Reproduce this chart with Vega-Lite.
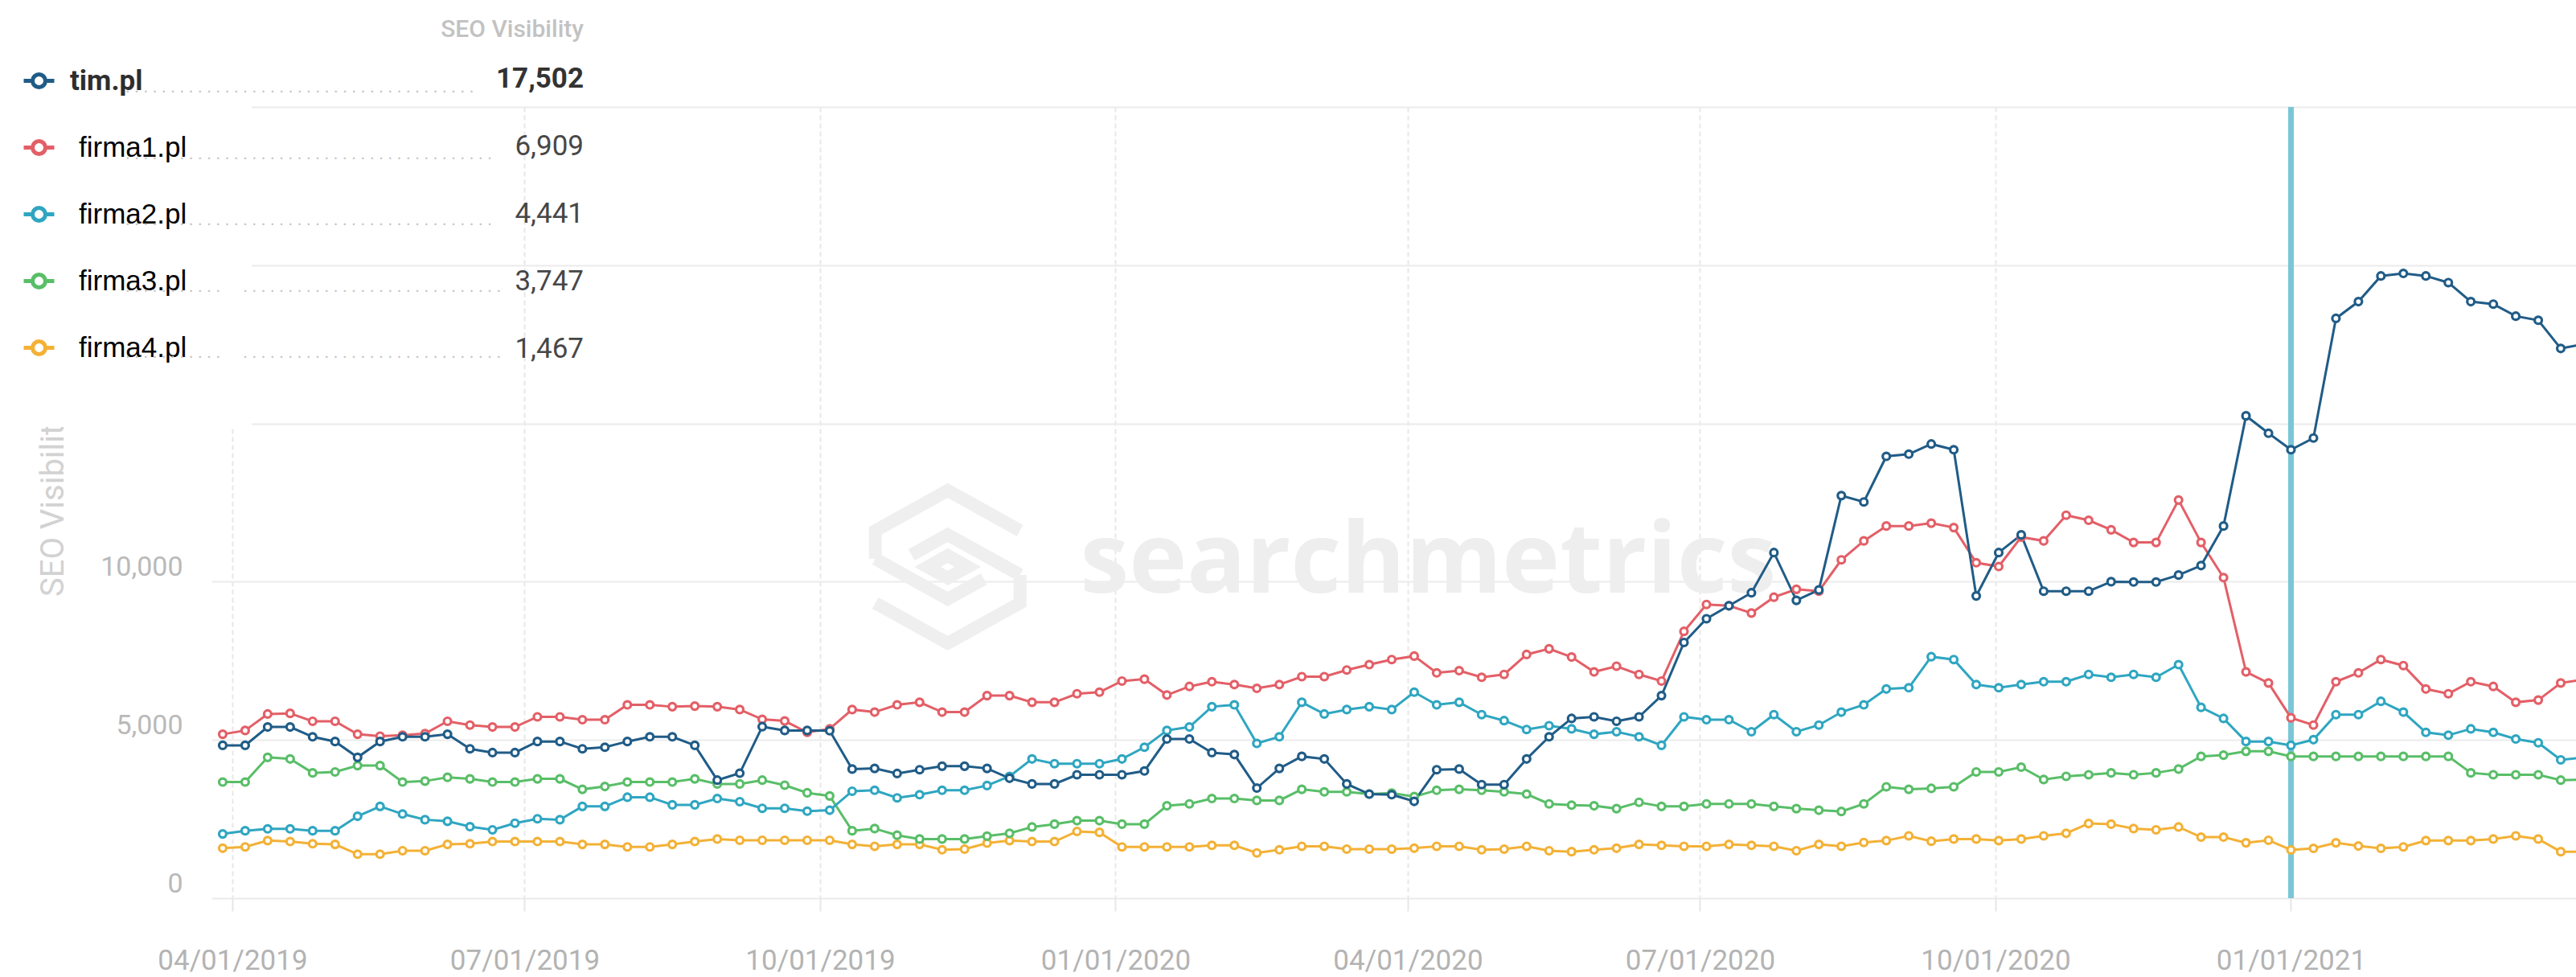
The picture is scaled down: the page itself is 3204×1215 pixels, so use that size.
{
"$schema":"https://vega.github.io/schema/vega-lite/v6.json",
"width":2941,"height":984,
"autosize":{"type":"none"},
"padding":{"left":263,"top":133,"right":0,"bottom":98},
"background":"white",
"config":{"view":{"stroke":null},"font":"Roboto"},
"datasets":{
"latest":[{"site":"tim.pl","visibility":17502},{"site":"firma1.pl","visibility":6909},{"site":"firma2.pl","visibility":4441},{"site":"firma3.pl","visibility":3747},{"site":"firma4.pl","visibility":1467}],
"visibility":[
{"date":"2019-03-29","site":"firma4.pl","visibility":1580},{"date":"2019-04-05","site":"firma4.pl","visibility":1620},{"date":"2019-04-12","site":"firma4.pl","visibility":1820},{"date":"2019-04-19","site":"firma4.pl","visibility":1790},{"date":"2019-04-26","site":"firma4.pl","visibility":1720},{"date":"2019-05-03","site":"firma4.pl","visibility":1700},{"date":"2019-05-10","site":"firma4.pl","visibility":1390},{"date":"2019-05-17","site":"firma4.pl","visibility":1390},{"date":"2019-05-24","site":"firma4.pl","visibility":1500},{"date":"2019-05-31","site":"firma4.pl","visibility":1500},
{"date":"2019-06-07","site":"firma4.pl","visibility":1700},{"date":"2019-06-14","site":"firma4.pl","visibility":1720},{"date":"2019-06-21","site":"firma4.pl","visibility":1790},{"date":"2019-06-28","site":"firma4.pl","visibility":1790},{"date":"2019-07-05","site":"firma4.pl","visibility":1790},{"date":"2019-07-12","site":"firma4.pl","visibility":1790},{"date":"2019-07-19","site":"firma4.pl","visibility":1700},{"date":"2019-07-26","site":"firma4.pl","visibility":1700},{"date":"2019-08-02","site":"firma4.pl","visibility":1620},{"date":"2019-08-09","site":"firma4.pl","visibility":1620},
{"date":"2019-08-16","site":"firma4.pl","visibility":1700},{"date":"2019-08-23","site":"firma4.pl","visibility":1790},{"date":"2019-08-30","site":"firma4.pl","visibility":1870},{"date":"2019-09-06","site":"firma4.pl","visibility":1830},{"date":"2019-09-13","site":"firma4.pl","visibility":1830},{"date":"2019-09-20","site":"firma4.pl","visibility":1830},{"date":"2019-09-27","site":"firma4.pl","visibility":1830},{"date":"2019-10-04","site":"firma4.pl","visibility":1830},{"date":"2019-10-11","site":"firma4.pl","visibility":1700},{"date":"2019-10-18","site":"firma4.pl","visibility":1640},
{"date":"2019-10-25","site":"firma4.pl","visibility":1700},{"date":"2019-11-01","site":"firma4.pl","visibility":1700},{"date":"2019-11-08","site":"firma4.pl","visibility":1530},{"date":"2019-11-15","site":"firma4.pl","visibility":1550},{"date":"2019-11-22","site":"firma4.pl","visibility":1740},{"date":"2019-11-29","site":"firma4.pl","visibility":1820},{"date":"2019-12-06","site":"firma4.pl","visibility":1790},{"date":"2019-12-13","site":"firma4.pl","visibility":1790},{"date":"2019-12-20","site":"firma4.pl","visibility":2110},{"date":"2019-12-27","site":"firma4.pl","visibility":2080},
{"date":"2020-01-03","site":"firma4.pl","visibility":1620},{"date":"2020-01-10","site":"firma4.pl","visibility":1620},{"date":"2020-01-17","site":"firma4.pl","visibility":1620},{"date":"2020-01-24","site":"firma4.pl","visibility":1620},{"date":"2020-01-31","site":"firma4.pl","visibility":1670},{"date":"2020-02-07","site":"firma4.pl","visibility":1670},{"date":"2020-02-14","site":"firma4.pl","visibility":1430},{"date":"2020-02-21","site":"firma4.pl","visibility":1530},{"date":"2020-02-28","site":"firma4.pl","visibility":1640},{"date":"2020-03-06","site":"firma4.pl","visibility":1640},
{"date":"2020-03-13","site":"firma4.pl","visibility":1550},{"date":"2020-03-20","site":"firma4.pl","visibility":1550},{"date":"2020-03-27","site":"firma4.pl","visibility":1550},{"date":"2020-04-03","site":"firma4.pl","visibility":1580},{"date":"2020-04-10","site":"firma4.pl","visibility":1640},{"date":"2020-04-17","site":"firma4.pl","visibility":1640},{"date":"2020-04-24","site":"firma4.pl","visibility":1530},{"date":"2020-05-01","site":"firma4.pl","visibility":1550},{"date":"2020-05-08","site":"firma4.pl","visibility":1640},{"date":"2020-05-15","site":"firma4.pl","visibility":1500},
{"date":"2020-05-22","site":"firma4.pl","visibility":1470},{"date":"2020-05-29","site":"firma4.pl","visibility":1530},{"date":"2020-06-05","site":"firma4.pl","visibility":1580},{"date":"2020-06-12","site":"firma4.pl","visibility":1700},{"date":"2020-06-19","site":"firma4.pl","visibility":1670},{"date":"2020-06-26","site":"firma4.pl","visibility":1640},{"date":"2020-07-03","site":"firma4.pl","visibility":1640},{"date":"2020-07-10","site":"firma4.pl","visibility":1700},{"date":"2020-07-17","site":"firma4.pl","visibility":1670},{"date":"2020-07-24","site":"firma4.pl","visibility":1640},
{"date":"2020-07-31","site":"firma4.pl","visibility":1500},{"date":"2020-08-07","site":"firma4.pl","visibility":1700},{"date":"2020-08-14","site":"firma4.pl","visibility":1640},{"date":"2020-08-21","site":"firma4.pl","visibility":1760},{"date":"2020-08-28","site":"firma4.pl","visibility":1820},{"date":"2020-09-04","site":"firma4.pl","visibility":1970},{"date":"2020-09-11","site":"firma4.pl","visibility":1800},{"date":"2020-09-18","site":"firma4.pl","visibility":1870},{"date":"2020-09-25","site":"firma4.pl","visibility":1870},{"date":"2020-10-02","site":"firma4.pl","visibility":1820},
{"date":"2020-10-09","site":"firma4.pl","visibility":1870},{"date":"2020-10-16","site":"firma4.pl","visibility":1970},{"date":"2020-10-23","site":"firma4.pl","visibility":2050},{"date":"2020-10-30","site":"firma4.pl","visibility":2360},{"date":"2020-11-06","site":"firma4.pl","visibility":2340},{"date":"2020-11-13","site":"firma4.pl","visibility":2200},{"date":"2020-11-20","site":"firma4.pl","visibility":2160},{"date":"2020-11-27","site":"firma4.pl","visibility":2250},{"date":"2020-12-04","site":"firma4.pl","visibility":1930},{"date":"2020-12-11","site":"firma4.pl","visibility":1930},
{"date":"2020-12-18","site":"firma4.pl","visibility":1750},{"date":"2020-12-25","site":"firma4.pl","visibility":1830},{"date":"2021-01-01","site":"firma4.pl","visibility":1525},{"date":"2021-01-08","site":"firma4.pl","visibility":1575},{"date":"2021-01-15","site":"firma4.pl","visibility":1750},{"date":"2021-01-22","site":"firma4.pl","visibility":1650},{"date":"2021-01-29","site":"firma4.pl","visibility":1575},{"date":"2021-02-05","site":"firma4.pl","visibility":1620},{"date":"2021-02-12","site":"firma4.pl","visibility":1820},{"date":"2021-02-19","site":"firma4.pl","visibility":1820},
{"date":"2021-02-26","site":"firma4.pl","visibility":1820},{"date":"2021-03-05","site":"firma4.pl","visibility":1870},{"date":"2021-03-12","site":"firma4.pl","visibility":1970},{"date":"2021-03-19","site":"firma4.pl","visibility":1870},{"date":"2021-03-26","site":"firma4.pl","visibility":1470},{"date":"2021-04-02","site":"firma4.pl","visibility":1467},

{"date":"2019-03-29","site":"firma3.pl","visibility":3670},{"date":"2019-04-05","site":"firma3.pl","visibility":3670},{"date":"2019-04-12","site":"firma3.pl","visibility":4450},{"date":"2019-04-19","site":"firma3.pl","visibility":4400},{"date":"2019-04-26","site":"firma3.pl","visibility":3960},{"date":"2019-05-03","site":"firma3.pl","visibility":3990},{"date":"2019-05-10","site":"firma3.pl","visibility":4190},{"date":"2019-05-17","site":"firma3.pl","visibility":4190},{"date":"2019-05-24","site":"firma3.pl","visibility":3670},{"date":"2019-05-31","site":"firma3.pl","visibility":3700},
{"date":"2019-06-07","site":"firma3.pl","visibility":3820},{"date":"2019-06-14","site":"firma3.pl","visibility":3770},{"date":"2019-06-21","site":"firma3.pl","visibility":3670},{"date":"2019-06-28","site":"firma3.pl","visibility":3670},{"date":"2019-07-05","site":"firma3.pl","visibility":3770},{"date":"2019-07-12","site":"firma3.pl","visibility":3770},{"date":"2019-07-19","site":"firma3.pl","visibility":3440},{"date":"2019-07-26","site":"firma3.pl","visibility":3530},{"date":"2019-08-02","site":"firma3.pl","visibility":3670},{"date":"2019-08-09","site":"firma3.pl","visibility":3670},
{"date":"2019-08-16","site":"firma3.pl","visibility":3670},{"date":"2019-08-23","site":"firma3.pl","visibility":3770},{"date":"2019-08-30","site":"firma3.pl","visibility":3610},{"date":"2019-09-06","site":"firma3.pl","visibility":3610},{"date":"2019-09-13","site":"firma3.pl","visibility":3730},{"date":"2019-09-20","site":"firma3.pl","visibility":3570},{"date":"2019-09-27","site":"firma3.pl","visibility":3330},{"date":"2019-10-04","site":"firma3.pl","visibility":3230},{"date":"2019-10-11","site":"firma3.pl","visibility":2130},{"date":"2019-10-18","site":"firma3.pl","visibility":2200},
{"date":"2019-10-25","site":"firma3.pl","visibility":1990},{"date":"2019-11-01","site":"firma3.pl","visibility":1870},{"date":"2019-11-08","site":"firma3.pl","visibility":1870},{"date":"2019-11-15","site":"firma3.pl","visibility":1870},{"date":"2019-11-22","site":"firma3.pl","visibility":1960},{"date":"2019-11-29","site":"firma3.pl","visibility":2050},{"date":"2019-12-06","site":"firma3.pl","visibility":2250},{"date":"2019-12-13","site":"firma3.pl","visibility":2340},{"date":"2019-12-20","site":"firma3.pl","visibility":2450},{"date":"2019-12-27","site":"firma3.pl","visibility":2450},
{"date":"2020-01-03","site":"firma3.pl","visibility":2340},{"date":"2020-01-10","site":"firma3.pl","visibility":2340},{"date":"2020-01-17","site":"firma3.pl","visibility":2920},{"date":"2020-01-24","site":"firma3.pl","visibility":2980},{"date":"2020-01-31","site":"firma3.pl","visibility":3150},{"date":"2020-02-07","site":"firma3.pl","visibility":3150},{"date":"2020-02-14","site":"firma3.pl","visibility":3090},{"date":"2020-02-21","site":"firma3.pl","visibility":3090},{"date":"2020-02-28","site":"firma3.pl","visibility":3440},{"date":"2020-03-06","site":"firma3.pl","visibility":3360},
{"date":"2020-03-13","site":"firma3.pl","visibility":3360},{"date":"2020-03-20","site":"firma3.pl","visibility":3290},{"date":"2020-03-27","site":"firma3.pl","visibility":3320},{"date":"2020-04-03","site":"firma3.pl","visibility":3210},{"date":"2020-04-10","site":"firma3.pl","visibility":3410},{"date":"2020-04-17","site":"firma3.pl","visibility":3440},{"date":"2020-04-24","site":"firma3.pl","visibility":3410},{"date":"2020-05-01","site":"firma3.pl","visibility":3360},{"date":"2020-05-08","site":"firma3.pl","visibility":3290},{"date":"2020-05-15","site":"firma3.pl","visibility":2980},
{"date":"2020-05-22","site":"firma3.pl","visibility":2940},{"date":"2020-05-29","site":"firma3.pl","visibility":2920},{"date":"2020-06-05","site":"firma3.pl","visibility":2830},{"date":"2020-06-12","site":"firma3.pl","visibility":3030},{"date":"2020-06-19","site":"firma3.pl","visibility":2900},{"date":"2020-06-26","site":"firma3.pl","visibility":2900},{"date":"2020-07-03","site":"firma3.pl","visibility":2980},{"date":"2020-07-10","site":"firma3.pl","visibility":2980},{"date":"2020-07-17","site":"firma3.pl","visibility":2980},{"date":"2020-07-24","site":"firma3.pl","visibility":2900},
{"date":"2020-07-31","site":"firma3.pl","visibility":2830},{"date":"2020-08-07","site":"firma3.pl","visibility":2780},{"date":"2020-08-14","site":"firma3.pl","visibility":2740},{"date":"2020-08-21","site":"firma3.pl","visibility":2980},{"date":"2020-08-28","site":"firma3.pl","visibility":3520},{"date":"2020-09-04","site":"firma3.pl","visibility":3440},{"date":"2020-09-11","site":"firma3.pl","visibility":3470},{"date":"2020-09-18","site":"firma3.pl","visibility":3520},{"date":"2020-09-25","site":"firma3.pl","visibility":3990},{"date":"2020-10-02","site":"firma3.pl","visibility":3990},
{"date":"2020-10-09","site":"firma3.pl","visibility":4140},{"date":"2020-10-16","site":"firma3.pl","visibility":3750},{"date":"2020-10-23","site":"firma3.pl","visibility":3850},{"date":"2020-10-30","site":"firma3.pl","visibility":3900},{"date":"2020-11-06","site":"firma3.pl","visibility":3960},{"date":"2020-11-13","site":"firma3.pl","visibility":3900},{"date":"2020-11-20","site":"firma3.pl","visibility":3960},{"date":"2020-11-27","site":"firma3.pl","visibility":4080},{"date":"2020-12-04","site":"firma3.pl","visibility":4480},{"date":"2020-12-11","site":"firma3.pl","visibility":4520},
{"date":"2020-12-18","site":"firma3.pl","visibility":4640},{"date":"2020-12-25","site":"firma3.pl","visibility":4640},{"date":"2021-01-01","site":"firma3.pl","visibility":4480},{"date":"2021-01-08","site":"firma3.pl","visibility":4480},{"date":"2021-01-15","site":"firma3.pl","visibility":4480},{"date":"2021-01-22","site":"firma3.pl","visibility":4480},{"date":"2021-01-29","site":"firma3.pl","visibility":4480},{"date":"2021-02-05","site":"firma3.pl","visibility":4480},{"date":"2021-02-12","site":"firma3.pl","visibility":4480},{"date":"2021-02-19","site":"firma3.pl","visibility":4480},
{"date":"2021-02-26","site":"firma3.pl","visibility":3960},{"date":"2021-03-05","site":"firma3.pl","visibility":3900},{"date":"2021-03-12","site":"firma3.pl","visibility":3900},{"date":"2021-03-19","site":"firma3.pl","visibility":3900},{"date":"2021-03-26","site":"firma3.pl","visibility":3730},{"date":"2021-04-02","site":"firma3.pl","visibility":3747},

{"date":"2019-03-29","site":"firma2.pl","visibility":2030},{"date":"2019-04-05","site":"firma2.pl","visibility":2130},{"date":"2019-04-12","site":"firma2.pl","visibility":2190},{"date":"2019-04-19","site":"firma2.pl","visibility":2190},{"date":"2019-04-26","site":"firma2.pl","visibility":2130},{"date":"2019-05-03","site":"firma2.pl","visibility":2130},{"date":"2019-05-10","site":"firma2.pl","visibility":2590},{"date":"2019-05-17","site":"firma2.pl","visibility":2900},{"date":"2019-05-24","site":"firma2.pl","visibility":2660},{"date":"2019-05-31","site":"firma2.pl","visibility":2480},
{"date":"2019-06-07","site":"firma2.pl","visibility":2430},{"date":"2019-06-14","site":"firma2.pl","visibility":2260},{"date":"2019-06-21","site":"firma2.pl","visibility":2160},{"date":"2019-06-28","site":"firma2.pl","visibility":2370},{"date":"2019-07-05","site":"firma2.pl","visibility":2510},{"date":"2019-07-12","site":"firma2.pl","visibility":2480},{"date":"2019-07-19","site":"firma2.pl","visibility":2900},{"date":"2019-07-26","site":"firma2.pl","visibility":2900},{"date":"2019-08-02","site":"firma2.pl","visibility":3190},{"date":"2019-08-09","site":"firma2.pl","visibility":3190},
{"date":"2019-08-16","site":"firma2.pl","visibility":2950},{"date":"2019-08-23","site":"firma2.pl","visibility":2950},{"date":"2019-08-30","site":"firma2.pl","visibility":3150},{"date":"2019-09-06","site":"firma2.pl","visibility":3050},{"date":"2019-09-13","site":"firma2.pl","visibility":2840},{"date":"2019-09-20","site":"firma2.pl","visibility":2840},{"date":"2019-09-27","site":"firma2.pl","visibility":2750},{"date":"2019-10-04","site":"firma2.pl","visibility":2780},{"date":"2019-10-11","site":"firma2.pl","visibility":3380},{"date":"2019-10-18","site":"firma2.pl","visibility":3410},
{"date":"2019-10-25","site":"firma2.pl","visibility":3170},{"date":"2019-11-01","site":"firma2.pl","visibility":3270},{"date":"2019-11-08","site":"firma2.pl","visibility":3410},{"date":"2019-11-15","site":"firma2.pl","visibility":3410},{"date":"2019-11-22","site":"firma2.pl","visibility":3560},{"date":"2019-11-29","site":"firma2.pl","visibility":3850},{"date":"2019-12-06","site":"firma2.pl","visibility":4400},{"date":"2019-12-13","site":"firma2.pl","visibility":4250},{"date":"2019-12-20","site":"firma2.pl","visibility":4250},{"date":"2019-12-27","site":"firma2.pl","visibility":4250},
{"date":"2020-01-03","site":"firma2.pl","visibility":4400},{"date":"2020-01-10","site":"firma2.pl","visibility":4770},{"date":"2020-01-17","site":"firma2.pl","visibility":5300},{"date":"2020-01-24","site":"firma2.pl","visibility":5410},{"date":"2020-01-31","site":"firma2.pl","visibility":6050},{"date":"2020-02-07","site":"firma2.pl","visibility":6110},{"date":"2020-02-14","site":"firma2.pl","visibility":4890},{"date":"2020-02-21","site":"firma2.pl","visibility":5100},{"date":"2020-02-28","site":"firma2.pl","visibility":6190},{"date":"2020-03-06","site":"firma2.pl","visibility":5820},
{"date":"2020-03-13","site":"firma2.pl","visibility":5960},{"date":"2020-03-20","site":"firma2.pl","visibility":6050},{"date":"2020-03-27","site":"firma2.pl","visibility":5960},{"date":"2020-04-03","site":"firma2.pl","visibility":6510},{"date":"2020-04-10","site":"firma2.pl","visibility":6110},{"date":"2020-04-17","site":"firma2.pl","visibility":6190},{"date":"2020-04-24","site":"firma2.pl","visibility":5800},{"date":"2020-05-01","site":"firma2.pl","visibility":5610},{"date":"2020-05-08","site":"firma2.pl","visibility":5330},{"date":"2020-05-15","site":"firma2.pl","visibility":5450},
{"date":"2020-05-22","site":"firma2.pl","visibility":5350},{"date":"2020-05-29","site":"firma2.pl","visibility":5180},{"date":"2020-06-05","site":"firma2.pl","visibility":5260},{"date":"2020-06-12","site":"firma2.pl","visibility":5100},{"date":"2020-06-19","site":"firma2.pl","visibility":4830},{"date":"2020-06-26","site":"firma2.pl","visibility":5730},{"date":"2020-07-03","site":"firma2.pl","visibility":5640},{"date":"2020-07-10","site":"firma2.pl","visibility":5640},{"date":"2020-07-17","site":"firma2.pl","visibility":5260},{"date":"2020-07-24","site":"firma2.pl","visibility":5800},
{"date":"2020-07-31","site":"firma2.pl","visibility":5260},{"date":"2020-08-07","site":"firma2.pl","visibility":5470},{"date":"2020-08-14","site":"firma2.pl","visibility":5880},{"date":"2020-08-21","site":"firma2.pl","visibility":6110},{"date":"2020-08-28","site":"firma2.pl","visibility":6610},{"date":"2020-09-04","site":"firma2.pl","visibility":6650},{"date":"2020-09-11","site":"firma2.pl","visibility":7630},{"date":"2020-09-18","site":"firma2.pl","visibility":7540},{"date":"2020-09-25","site":"firma2.pl","visibility":6750},{"date":"2020-10-02","site":"firma2.pl","visibility":6650},
{"date":"2020-10-09","site":"firma2.pl","visibility":6750},{"date":"2020-10-16","site":"firma2.pl","visibility":6840},{"date":"2020-10-23","site":"firma2.pl","visibility":6840},{"date":"2020-10-30","site":"firma2.pl","visibility":7070},{"date":"2020-11-06","site":"firma2.pl","visibility":6980},{"date":"2020-11-13","site":"firma2.pl","visibility":7070},{"date":"2020-11-20","site":"firma2.pl","visibility":6980},{"date":"2020-11-27","site":"firma2.pl","visibility":7380},{"date":"2020-12-04","site":"firma2.pl","visibility":6030},{"date":"2020-12-11","site":"firma2.pl","visibility":5680},
{"date":"2020-12-18","site":"firma2.pl","visibility":4950},{"date":"2020-12-25","site":"firma2.pl","visibility":4950},{"date":"2021-01-01","site":"firma2.pl","visibility":4830},{"date":"2021-01-08","site":"firma2.pl","visibility":5010},{"date":"2021-01-15","site":"firma2.pl","visibility":5800},{"date":"2021-01-22","site":"firma2.pl","visibility":5800},{"date":"2021-01-29","site":"firma2.pl","visibility":6220},{"date":"2021-02-05","site":"firma2.pl","visibility":5880},{"date":"2021-02-12","site":"firma2.pl","visibility":5240},{"date":"2021-02-19","site":"firma2.pl","visibility":5150},
{"date":"2021-02-26","site":"firma2.pl","visibility":5350},{"date":"2021-03-05","site":"firma2.pl","visibility":5240},{"date":"2021-03-12","site":"firma2.pl","visibility":5030},{"date":"2021-03-19","site":"firma2.pl","visibility":4910},{"date":"2021-03-26","site":"firma2.pl","visibility":4370},{"date":"2021-04-02","site":"firma2.pl","visibility":4441},

{"date":"2019-03-29","site":"firma1.pl","visibility":5180},{"date":"2019-04-05","site":"firma1.pl","visibility":5300},{"date":"2019-04-12","site":"firma1.pl","visibility":5820},{"date":"2019-04-19","site":"firma1.pl","visibility":5840},{"date":"2019-04-26","site":"firma1.pl","visibility":5590},{"date":"2019-05-03","site":"firma1.pl","visibility":5590},{"date":"2019-05-10","site":"firma1.pl","visibility":5180},{"date":"2019-05-17","site":"firma1.pl","visibility":5120},{"date":"2019-05-24","site":"firma1.pl","visibility":5150},{"date":"2019-05-31","site":"firma1.pl","visibility":5200},
{"date":"2019-06-07","site":"firma1.pl","visibility":5590},{"date":"2019-06-14","site":"firma1.pl","visibility":5470},{"date":"2019-06-21","site":"firma1.pl","visibility":5410},{"date":"2019-06-28","site":"firma1.pl","visibility":5410},{"date":"2019-07-05","site":"firma1.pl","visibility":5730},{"date":"2019-07-12","site":"firma1.pl","visibility":5730},{"date":"2019-07-19","site":"firma1.pl","visibility":5640},{"date":"2019-07-26","site":"firma1.pl","visibility":5640},{"date":"2019-08-02","site":"firma1.pl","visibility":6110},{"date":"2019-08-09","site":"firma1.pl","visibility":6110},
{"date":"2019-08-16","site":"firma1.pl","visibility":6050},{"date":"2019-08-23","site":"firma1.pl","visibility":6070},{"date":"2019-08-30","site":"firma1.pl","visibility":6050},{"date":"2019-09-06","site":"firma1.pl","visibility":5960},{"date":"2019-09-13","site":"firma1.pl","visibility":5650},{"date":"2019-09-20","site":"firma1.pl","visibility":5600},{"date":"2019-09-27","site":"firma1.pl","visibility":5240},{"date":"2019-10-04","site":"firma1.pl","visibility":5350},{"date":"2019-10-11","site":"firma1.pl","visibility":5960},{"date":"2019-10-18","site":"firma1.pl","visibility":5880},
{"date":"2019-10-25","site":"firma1.pl","visibility":6110},{"date":"2019-11-01","site":"firma1.pl","visibility":6190},{"date":"2019-11-08","site":"firma1.pl","visibility":5880},{"date":"2019-11-15","site":"firma1.pl","visibility":5880},{"date":"2019-11-22","site":"firma1.pl","visibility":6400},{"date":"2019-11-29","site":"firma1.pl","visibility":6400},{"date":"2019-12-06","site":"firma1.pl","visibility":6190},{"date":"2019-12-13","site":"firma1.pl","visibility":6190},{"date":"2019-12-20","site":"firma1.pl","visibility":6460},{"date":"2019-12-27","site":"firma1.pl","visibility":6510},
{"date":"2020-01-03","site":"firma1.pl","visibility":6860},{"date":"2020-01-10","site":"firma1.pl","visibility":6920},{"date":"2020-01-17","site":"firma1.pl","visibility":6420},{"date":"2020-01-24","site":"firma1.pl","visibility":6690},{"date":"2020-01-31","site":"firma1.pl","visibility":6840},{"date":"2020-02-07","site":"firma1.pl","visibility":6750},{"date":"2020-02-14","site":"firma1.pl","visibility":6630},{"date":"2020-02-21","site":"firma1.pl","visibility":6750},{"date":"2020-02-28","site":"firma1.pl","visibility":7000},{"date":"2020-03-06","site":"firma1.pl","visibility":7000},
{"date":"2020-03-13","site":"firma1.pl","visibility":7210},{"date":"2020-03-20","site":"firma1.pl","visibility":7380},{"date":"2020-03-27","site":"firma1.pl","visibility":7540},{"date":"2020-04-03","site":"firma1.pl","visibility":7650},{"date":"2020-04-10","site":"firma1.pl","visibility":7120},{"date":"2020-04-17","site":"firma1.pl","visibility":7190},{"date":"2020-04-24","site":"firma1.pl","visibility":6980},{"date":"2020-05-01","site":"firma1.pl","visibility":7070},{"date":"2020-05-08","site":"firma1.pl","visibility":7700},{"date":"2020-05-15","site":"firma1.pl","visibility":7880},
{"date":"2020-05-22","site":"firma1.pl","visibility":7620},{"date":"2020-05-29","site":"firma1.pl","visibility":7150},{"date":"2020-06-05","site":"firma1.pl","visibility":7330},{"date":"2020-06-12","site":"firma1.pl","visibility":7070},{"date":"2020-06-19","site":"firma1.pl","visibility":6860},{"date":"2020-06-26","site":"firma1.pl","visibility":8430},{"date":"2020-07-03","site":"firma1.pl","visibility":9280},{"date":"2020-07-10","site":"firma1.pl","visibility":9240},{"date":"2020-07-17","site":"firma1.pl","visibility":9010},{"date":"2020-07-24","site":"firma1.pl","visibility":9510},
{"date":"2020-07-31","site":"firma1.pl","visibility":9760},{"date":"2020-08-07","site":"firma1.pl","visibility":9700},{"date":"2020-08-14","site":"firma1.pl","visibility":10690},{"date":"2020-08-21","site":"firma1.pl","visibility":11290},{"date":"2020-08-28","site":"firma1.pl","visibility":11760},{"date":"2020-09-04","site":"firma1.pl","visibility":11760},{"date":"2020-09-11","site":"firma1.pl","visibility":11850},{"date":"2020-09-18","site":"firma1.pl","visibility":11710},{"date":"2020-09-25","site":"firma1.pl","visibility":10600},{"date":"2020-10-02","site":"firma1.pl","visibility":10480},
{"date":"2020-10-09","site":"firma1.pl","visibility":11410},{"date":"2020-10-16","site":"firma1.pl","visibility":11290},{"date":"2020-10-23","site":"firma1.pl","visibility":12100},{"date":"2020-10-30","site":"firma1.pl","visibility":11940},{"date":"2020-11-06","site":"firma1.pl","visibility":11640},{"date":"2020-11-13","site":"firma1.pl","visibility":11240},{"date":"2020-11-20","site":"firma1.pl","visibility":11240},{"date":"2020-11-27","site":"firma1.pl","visibility":12580},{"date":"2020-12-04","site":"firma1.pl","visibility":11240},{"date":"2020-12-11","site":"firma1.pl","visibility":10130},
{"date":"2020-12-18","site":"firma1.pl","visibility":7150},{"date":"2020-12-25","site":"firma1.pl","visibility":6800},{"date":"2021-01-01","site":"firma1.pl","visibility":5700},{"date":"2021-01-08","site":"firma1.pl","visibility":5470},{"date":"2021-01-15","site":"firma1.pl","visibility":6840},{"date":"2021-01-22","site":"firma1.pl","visibility":7120},{"date":"2021-01-29","site":"firma1.pl","visibility":7540},{"date":"2021-02-05","site":"firma1.pl","visibility":7350},{"date":"2021-02-12","site":"firma1.pl","visibility":6610},{"date":"2021-02-19","site":"firma1.pl","visibility":6460},
{"date":"2021-02-26","site":"firma1.pl","visibility":6840},{"date":"2021-03-05","site":"firma1.pl","visibility":6690},{"date":"2021-03-12","site":"firma1.pl","visibility":6190},{"date":"2021-03-19","site":"firma1.pl","visibility":6260},{"date":"2021-03-26","site":"firma1.pl","visibility":6800},{"date":"2021-04-02","site":"firma1.pl","visibility":6909},

{"date":"2019-03-29","site":"tim.pl","visibility":4830},{"date":"2019-04-05","site":"tim.pl","visibility":4830},{"date":"2019-04-12","site":"tim.pl","visibility":5410},{"date":"2019-04-19","site":"tim.pl","visibility":5410},{"date":"2019-04-26","site":"tim.pl","visibility":5100},{"date":"2019-05-03","site":"tim.pl","visibility":4950},{"date":"2019-05-10","site":"tim.pl","visibility":4450},{"date":"2019-05-17","site":"tim.pl","visibility":4950},{"date":"2019-05-24","site":"tim.pl","visibility":5100},{"date":"2019-05-31","site":"tim.pl","visibility":5100},
{"date":"2019-06-07","site":"tim.pl","visibility":5180},{"date":"2019-06-14","site":"tim.pl","visibility":4720},{"date":"2019-06-21","site":"tim.pl","visibility":4600},{"date":"2019-06-28","site":"tim.pl","visibility":4600},{"date":"2019-07-05","site":"tim.pl","visibility":4950},{"date":"2019-07-12","site":"tim.pl","visibility":4950},{"date":"2019-07-19","site":"tim.pl","visibility":4720},{"date":"2019-07-26","site":"tim.pl","visibility":4770},{"date":"2019-08-02","site":"tim.pl","visibility":4950},{"date":"2019-08-09","site":"tim.pl","visibility":5100},
{"date":"2019-08-16","site":"tim.pl","visibility":5100},{"date":"2019-08-23","site":"tim.pl","visibility":4830},{"date":"2019-08-30","site":"tim.pl","visibility":3730},{"date":"2019-09-06","site":"tim.pl","visibility":3950},{"date":"2019-09-13","site":"tim.pl","visibility":5420},{"date":"2019-09-20","site":"tim.pl","visibility":5300},{"date":"2019-09-27","site":"tim.pl","visibility":5300},{"date":"2019-10-04","site":"tim.pl","visibility":5290},{"date":"2019-10-11","site":"tim.pl","visibility":4080},{"date":"2019-10-18","site":"tim.pl","visibility":4100},
{"date":"2019-10-25","site":"tim.pl","visibility":3940},{"date":"2019-11-01","site":"tim.pl","visibility":4060},{"date":"2019-11-08","site":"tim.pl","visibility":4170},{"date":"2019-11-15","site":"tim.pl","visibility":4170},{"date":"2019-11-22","site":"tim.pl","visibility":4100},{"date":"2019-11-29","site":"tim.pl","visibility":3790},{"date":"2019-12-06","site":"tim.pl","visibility":3610},{"date":"2019-12-13","site":"tim.pl","visibility":3610},{"date":"2019-12-20","site":"tim.pl","visibility":3900},{"date":"2019-12-27","site":"tim.pl","visibility":3900},
{"date":"2020-01-03","site":"tim.pl","visibility":3900},{"date":"2020-01-10","site":"tim.pl","visibility":4020},{"date":"2020-01-17","site":"tim.pl","visibility":5030},{"date":"2020-01-24","site":"tim.pl","visibility":5030},{"date":"2020-01-31","site":"tim.pl","visibility":4600},{"date":"2020-02-07","site":"tim.pl","visibility":4540},{"date":"2020-02-14","site":"tim.pl","visibility":3480},{"date":"2020-02-21","site":"tim.pl","visibility":4100},{"date":"2020-02-28","site":"tim.pl","visibility":4480},{"date":"2020-03-06","site":"tim.pl","visibility":4400},
{"date":"2020-03-13","site":"tim.pl","visibility":3610},{"date":"2020-03-20","site":"tim.pl","visibility":3290},{"date":"2020-03-27","site":"tim.pl","visibility":3270},{"date":"2020-04-03","site":"tim.pl","visibility":3060},{"date":"2020-04-10","site":"tim.pl","visibility":4060},{"date":"2020-04-17","site":"tim.pl","visibility":4080},{"date":"2020-04-24","site":"tim.pl","visibility":3590},{"date":"2020-05-01","site":"tim.pl","visibility":3590},{"date":"2020-05-08","site":"tim.pl","visibility":4400},{"date":"2020-05-15","site":"tim.pl","visibility":5100},
{"date":"2020-05-22","site":"tim.pl","visibility":5680},{"date":"2020-05-29","site":"tim.pl","visibility":5730},{"date":"2020-06-05","site":"tim.pl","visibility":5590},{"date":"2020-06-12","site":"tim.pl","visibility":5730},{"date":"2020-06-19","site":"tim.pl","visibility":6400},{"date":"2020-06-26","site":"tim.pl","visibility":8080},{"date":"2020-07-03","site":"tim.pl","visibility":8830},{"date":"2020-07-10","site":"tim.pl","visibility":9240},{"date":"2020-07-17","site":"tim.pl","visibility":9650},{"date":"2020-07-24","site":"tim.pl","visibility":10920},
{"date":"2020-07-31","site":"tim.pl","visibility":9410},{"date":"2020-08-07","site":"tim.pl","visibility":9740},{"date":"2020-08-14","site":"tim.pl","visibility":12720},{"date":"2020-08-21","site":"tim.pl","visibility":12520},{"date":"2020-08-28","site":"tim.pl","visibility":13960},{"date":"2020-09-04","site":"tim.pl","visibility":14030},{"date":"2020-09-11","site":"tim.pl","visibility":14350},{"date":"2020-09-18","site":"tim.pl","visibility":14170},{"date":"2020-09-25","site":"tim.pl","visibility":9550},{"date":"2020-10-02","site":"tim.pl","visibility":10920},
{"date":"2020-10-09","site":"tim.pl","visibility":11480},{"date":"2020-10-16","site":"tim.pl","visibility":9700},{"date":"2020-10-23","site":"tim.pl","visibility":9700},{"date":"2020-10-30","site":"tim.pl","visibility":9700},{"date":"2020-11-06","site":"tim.pl","visibility":10000},{"date":"2020-11-13","site":"tim.pl","visibility":9990},{"date":"2020-11-20","site":"tim.pl","visibility":9990},{"date":"2020-11-27","site":"tim.pl","visibility":10210},{"date":"2020-12-04","site":"tim.pl","visibility":10510},{"date":"2020-12-11","site":"tim.pl","visibility":11760},
{"date":"2020-12-18","site":"tim.pl","visibility":15240},{"date":"2020-12-25","site":"tim.pl","visibility":14690},{"date":"2021-01-01","site":"tim.pl","visibility":14170},{"date":"2021-01-08","site":"tim.pl","visibility":14540},{"date":"2021-01-15","site":"tim.pl","visibility":18320},{"date":"2021-01-22","site":"tim.pl","visibility":18850},{"date":"2021-01-29","site":"tim.pl","visibility":19660},{"date":"2021-02-05","site":"tim.pl","visibility":19740},{"date":"2021-02-12","site":"tim.pl","visibility":19660},{"date":"2021-02-19","site":"tim.pl","visibility":19450},
{"date":"2021-02-26","site":"tim.pl","visibility":18850},{"date":"2021-03-05","site":"tim.pl","visibility":18770},{"date":"2021-03-12","site":"tim.pl","visibility":18390},{"date":"2021-03-19","site":"tim.pl","visibility":18260},{"date":"2021-03-26","site":"tim.pl","visibility":17370},{"date":"2021-04-02","site":"tim.pl","visibility":17502}
]},
"layer":[
{"data":{"values":[{"brand":"searchmetrics"}]},
 "mark":{"type":"text","font":"Open Sans","fontWeight":700,"fontSize":122,"color":"#eeeeee","align":"left","baseline":"alphabetic"},
 "encoding":{"x":{"datum":{"year":2019,"month":12,"date":21,"utc":true},"type":"temporal"},"y":{"datum":9650,"type":"quantitative"},"text":{"field":"brand"}}},
{"data":{"values":[{"brand":"searchmetrics"}]},
 "mark":{"type":"point","shape":"M-0.9,-0.1V-0.45L0,-0.95L0.9,-0.45M-0.9,-0.1L0,0.4L0.45,0.15M0.9,0.1V0.45L0,0.95L-0.9,0.45M0.9,0.1L0,-0.4L-0.45,-0.15M-0.25,0L0,-0.14L0.25,0L0,0.14Z","size":40000,"strokeWidth":16,"color":"#efefef","filled":false,"opacity":1},
 "encoding":{"x":{"datum":{"year":2019,"month":11,"date":9,"hours":18,"utc":true},"type":"temporal"},"y":{"datum":10470,"type":"quantitative"}}},
{"data":{"values":[{"date":"2021-01-01"}]},
 "mark":{"type":"rule","color":"#7ac6d6","strokeWidth":7},
 "encoding":{"x":{"field":"date","type":"temporal","title":null}}},
{"data":{"name":"visibility"},
 "mark":{"type":"line","strokeWidth":3,"clip":true},
 "encoding":{
  "x":{"field":"date","type":"temporal","title":null,
   "scale":{"type":"utc","domain":[{"year":2019,"month":3,"date":25,"hours":12,"utc":true},{"year":2021,"month":3,"date":30,"hours":18,"utc":true}]},
   "axis":{"values":[{"year":2019,"month":4,"date":1,"utc":true},{"year":2019,"month":7,"date":1,"utc":true},{"year":2019,"month":10,"date":1,"utc":true},{"year":2020,"month":1,"date":1,"utc":true},{"year":2020,"month":4,"date":1,"utc":true},{"year":2020,"month":7,"date":1,"utc":true},{"year":2020,"month":10,"date":1,"utc":true},{"year":2021,"month":1,"date":1,"utc":true}],
    "format":"%m/%d/%Y","labelFont":"Roboto","labelFontSize":35,"labelColor":"#b3b3b3","labelPadding":44,"labelFlush":false,"labelOverlap":false,"labelLimit":500,
    "domain":false,"ticks":true,"tickSize":16,"tickColor":"#e6e6e6","tickWidth":2,
    "grid":true,"gridColor":"#e8e8e8","gridWidth":2,"gridDash":[6,4]}},
  "y":{"field":"visibility","type":"quantitative","title":"SEO Visibility",
   "scale":{"domain":[0,25000],"nice":false,"zero":true},
   "axis":{"values":[0,5000,10000,15000,20000,25000],"format":",d","labelFont":"Roboto","labelFontSize":34,"labelColor":"#b9b9b9","labelPadding":36,"labelOffset":-18,
    "ticks":false,"domain":false,"grid":true,"gridColor":"#ebebeb","gridWidth":2,
    "titleFont":"Roboto","titleFontSize":40,"titleFontWeight":"normal","titleColor":"#d2d2d2","titleX":-197,"titleY":492,"titleAngle":-90,"titleBaseline":"middle","titleAlign":"center"}},
  "color":{"field":"site","type":"nominal",
   "scale":{"domain":["tim.pl","firma1.pl","firma2.pl","firma3.pl","firma4.pl"],"range":["#205c87","#e35f67","#2fa6c1","#59be68","#f3b136"]},
   "legend":{"orient":"none","legendX":-316,"legendY":-134,"title":null,
    "symbolType":"M-1,0H-0.42M0.42,0H1M0.42,0A0.42,0.42,0,1,1,-0.42,0A0.42,0.42,0,1,1,0.42,0Z",
    "symbolSize":1444,"symbolStrokeWidth":5,"symbolFillColor":"white",
    "labelFont":"Liberation Sans","labelFontSize":35,"labelColor":"#000000","labelOffset":17,"labelLimit":400,"rowPadding":43,
    "fillColor":"white","padding":80,
    "encode":{
     "symbols":{"update":{"fill":{"value":"white"},"strokeWidth":{"value":5},"opacity":{"value":1}}},
     "labels":{"update":{
      "font":{"signal":"datum.value === 'tim.pl' ? 'Roboto' : 'Liberation Sans'"},
      "fontWeight":{"signal":"datum.value === 'tim.pl' ? 'bold' : 'normal'"},
      "fill":{"signal":"datum.value === 'tim.pl' ? '#2e2e2e' : '#000000'"},
      "dx":{"signal":"datum.value === 'tim.pl' ? 0 : 11"}}}}}}}},
{"data":{"name":"visibility"},
 "mark":{"type":"point","filled":false,"fill":"white","size":80,"strokeWidth":3.2,"opacity":1,"clip":true},
 "encoding":{
  "x":{"field":"date","type":"temporal","title":null},
  "y":{"field":"visibility","type":"quantitative","title":"SEO Visibility"},
  "color":{"field":"site","type":"nominal"}}},
{"data":{"name":"latest"},
 "mark":{"type":"point","size":0,"strokeWidth":0,"filled":false},
 "encoding":{
  "shape":{"field":"site","type":"nominal","sort":{"field":"visibility","order":"descending"},
   "legend":{"orient":"none","legendX":-129,"legendY":-46,"title":null,"symbolSize":1,"symbolStrokeWidth":0,"symbolOpacity":0,"labelOffset":0,
    "labelFont":"Roboto","labelFontSize":22,"labelColor":"#c4c4c4","labelLimit":800,"labelBaseline":"top","rowPadding":50.5,"padding":0,
    "labelExpr":"datum.value == 'tim.pl' ? '. . . . . . . . . . . . . . . . . . . . . . . . . . . . . . . . . . . . . . .' : ((datum.value == 'firma1.pl' || datum.value == 'firma2.pl') ? '\u2002\u2002\u2002\u2002\u2002\u2002. . . . \u2002\u2002. . . . . . . . . . . . . . . . . . . . . . . . . . . . . . . . . . .' : '\u2002\u2002\u2002\u2002\u2002\u2002. . . . . . . . . . . \u2002\u2002. . . . . . . . . . . . . . . . . . . . . . . . . . . . .')"}},
  "opacity":{"field":"visibility","type":"ordinal","sort":"descending",
   "legend":{"orient":"none","legendX":285,"legendY":-111,"title":"SEO Visibility","titleAnchor":"end","titleFont":"Roboto","titleFontSize":30,"titleFontWeight":500,"titleColor":"#c2c2c2","titleLimit":400,"titlePadding":28,
    "symbolSize":1,"symbolStrokeWidth":0,"symbolOpacity":0,"labelOffset":0,
    "labelExpr":"format(datum.value, ',')","labelAlign":"right","labelFont":"Roboto","labelFontSize":35,
    "labelColor":{"expr":"datum.value > 10000 ? '#333333' : '#474747'"},
    "labelFontWeight":{"expr":"datum.value > 10000 ? 'bold' : 'normal'"},
    "rowPadding":48,"padding":0}}}}
]
}
